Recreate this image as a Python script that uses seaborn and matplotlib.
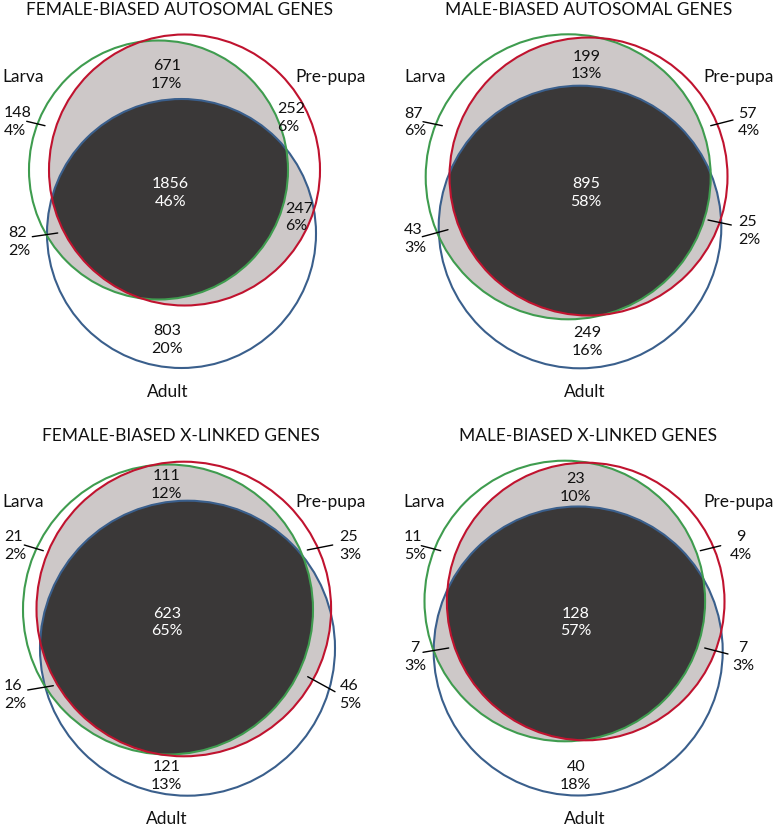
import numpy as np
import matplotlib
matplotlib.use("Agg")
import matplotlib.pyplot as plt
from matplotlib.patches import Circle, Polygon
import seaborn as sns

# ---------------- data ----------------
titles = ["FEMALE-BIASED AUTOSOMAL GENES", "MALE-BIASED AUTOSOMAL GENES",
          "FEMALE-BIASED X-LINKED GENES", "MALE-BIASED X-LINKED GENES"]
set_names = ["Larva", "Pre-pupa", "Adult"]
larva_only = [148, 87, 21, 11]
larva_prepupa = [671, 199, 111, 23]
prepupa_only = [252, 57, 25, 9]
all_three = [1856, 895, 623, 128]
prepupa_adult = [247, 25, 46, 7]
larva_adult = [82, 43, 16, 7]
adult_only = [803, 249, 121, 40]
pct_larva_only = [4, 6, 2, 5]
pct_larva_prepupa = [17, 13, 12, 10]
pct_prepupa_only = [6, 4, 3, 4]
pct_all_three = [46, 58, 65, 57]
pct_prepupa_adult = [6, 2, 5, 3]
pct_larva_adult = [2, 3, 2, 3]
pct_adult_only = [20, 16, 13, 18]

# ---------------- layout (pixel space) ----------------
circles = [
    [(158.5, 171.0, 129.5), (184.5, 171.0, 135.5), (181.5, 234.5, 134.5)],
    [(568.2, 177.8, 142.5), (588.5, 177.5, 139.0), (580.0, 228.0, 141.3)],
    [(168.0, 610.5, 145.0), (183.8, 610.0, 147.3), (187.5, 649.2, 147.5)],
    [(564.8, 602.0, 140.3), (585.7, 602.5, 138.8), (578.2, 652.0, 144.5)],
]
title_pos = [(180, 10), (588.7, 10), (180.7, 436), (588.3, 436)]
larva_pos = [(2, 77), (404, 77), (2, 502), (403, 502)]
prepupa_pos = [(295, 77), (703, 77), (295, 502), (703, 502)]
adult_pos = [(167.5, 392), (584.7, 392), (166.7, 819), (584.7, 819)]
pos_larva_only = [(4, 122, "left"), (404, 122.5, "left"), (4, 546.3, "left"), (404, 546.3, "left")]
pos_larva_prepupa = [(166.7, 75, "center"), (586.3, 65.5, "center"), (166.7, 484.8, "center"), (575.7, 488.3, "center")]
pos_prepupa_only = [(277, 118, "left"), (738, 122.5, "left"), (339.3, 546.3, "left"), (741, 546.3, "center")]
pos_all_three = [(170.7, 193.3, "center"), (586.3, 193, "center"), (166.7, 622.5, "center"), (575.7, 622.5, "center")]
pos_prepupa_adult = [(285, 217.5, "left"), (738, 230.7, "left"), (339.3, 695, "left"), (743, 657.3, "center")]
pos_larva_adult = [(8, 242, "left"), (404, 239.3, "left"), (4, 695, "left"), (415, 657.3, "center")]
pos_adult_only = [(166.7, 340, "center"), (587, 341.7, "center"), (166.7, 776, "center"), (575.7, 776, "center")]
leaders = [
    [((26.7, 122.3), (45, 126.7)), ((32.3, 237.7), (57.7, 234))],
    [((423, 122.7), (442.3, 126.7)), ((710.7, 126.7), (733, 121)),
     ((708, 221), (731.3, 226)), ((422.3, 237.7), (448, 230.7))],
    [((24.3, 546), (43.3, 551.7)), ((307.3, 551), (332.7, 546)),
     ((27.7, 691), (53.3, 686.7)), ((307.7, 677.7), (335, 692.7))],
    [((421.3, 546.7), (440.7, 551.7)), ((700.3, 551.7), (720.7, 546.7)),
     ((423, 653.3), (448.7, 649)), ((704.7, 649), (728, 655))],
]

line_colors = ["#3f9c4f", "#c0132f", "#3a5f8c"]
light_fill = "#cdc8c8"
dark_fill = "#3a3838"

sns.set_theme(style="white")
plt.rcParams["font.family"] = ["Lato", "DejaVu Sans"]

fig = plt.figure(figsize=(7.77, 8.29), dpi=100)
ax = fig.add_axes([0, 0, 1, 1])
ax.set_xlim(0, 777)
ax.set_ylim(829, 0)
ax.axis("off")


def intersection_polygon(circs, n=1440):
    pts = []
    t = np.linspace(0, 2 * np.pi, n, endpoint=False)
    for i, (cx, cy, r) in enumerate(circs):
        p = np.column_stack([cx + r * np.cos(t), cy + r * np.sin(t)])
        mask = np.ones(len(p), bool)
        for j, (ox, oy, orr) in enumerate(circs):
            if j != i:
                mask &= (p[:, 0] - ox) ** 2 + (p[:, 1] - oy) ** 2 <= orr ** 2 + 1e-6
        pts.append(p[mask])
    pts = np.vstack(pts)
    c = pts.mean(axis=0)
    ang = np.arctan2(pts[:, 1] - c[1], pts[:, 0] - c[0])
    return pts[np.argsort(ang)]


num_fs = 11.5
for k in range(4):
    cl = circles[k]
    for a, b in [(0, 1), (1, 2), (0, 2)]:
        poly = intersection_polygon([cl[a], cl[b]])
        ax.add_patch(Polygon(poly, closed=True, facecolor=light_fill, edgecolor="none", zorder=1))
    poly = intersection_polygon(cl)
    ax.add_patch(Polygon(poly, closed=True, facecolor=dark_fill, edgecolor="none", zorder=2))
    for (cx, cy, r), col in zip([cl[2], cl[0], cl[1]], [line_colors[2], line_colors[0], line_colors[1]]):
        ax.add_patch(Circle((cx, cy), r, fill=False, edgecolor=col, linewidth=1.5, zorder=3))

    ax.text(*title_pos[k], titles[k], ha="center", va="center", fontsize=12.5, color="#111111")
    ax.text(*larva_pos[k], set_names[0], ha="left", va="center", fontsize=12.5, color="#111111")
    ax.text(*prepupa_pos[k], set_names[1], ha="left", va="center", fontsize=12.5, color="#111111")
    ax.text(*adult_pos[k], set_names[2], ha="center", va="center", fontsize=12.5, color="#111111")

    regions = [
        (larva_only, pct_larva_only, pos_larva_only, "#111111"),
        (larva_prepupa, pct_larva_prepupa, pos_larva_prepupa, "#111111"),
        (prepupa_only, pct_prepupa_only, pos_prepupa_only, "#111111"),
        (all_three, pct_all_three, pos_all_three, "white"),
        (prepupa_adult, pct_prepupa_adult, pos_prepupa_adult, "#111111"),
        (larva_adult, pct_larva_adult, pos_larva_adult, "#111111"),
        (adult_only, pct_adult_only, pos_adult_only, "#111111"),
    ]
    for counts, pcts, poss, col in regions:
        x, y, ha = poss[k]
        ax.text(x, y, f"{counts[k]}\n{pcts[k]}%", ha=ha, va="center", multialignment=ha,
                fontsize=num_fs, color=col, linespacing=1.35, zorder=5)
    for (x0, y0), (x1, y1) in leaders[k]:
        ax.plot([x0, x1], [y0, y1], color="black", linewidth=1.0, zorder=4)

fig.savefig("out.png", dpi=100, facecolor="white")
